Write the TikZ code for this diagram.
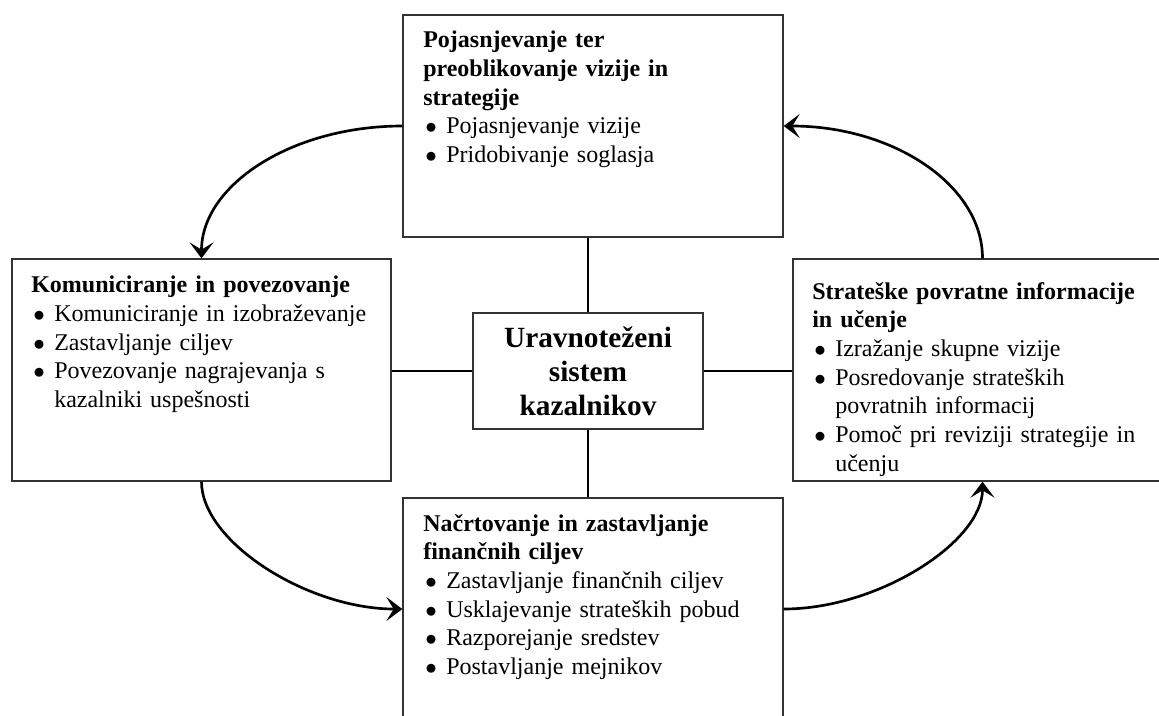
\documentclass[tikz,border=0pt]{standalone}
\usepackage{fontspec}
\setmainfont{Liberation Serif}
\usetikzlibrary{arrows.meta}
\newcommand{\alineja}{\par\hangindent=17.25pt\hangafter=1\noindent\makebox[17.25pt][l]{\hspace{1.5pt}$\bullet$}}
\newcommand{\vrsta}{\unskip\hfil\break}

\begin{document}
\begin{tikzpicture}[x=0.75pt,y=0.75pt,yscale=-1,xscale=1,
  okvir/.style={draw=black!80,line width=1pt,fill=white,inner sep=0pt},
  besedilo/.style={anchor=north west,inner sep=0pt,text width=265pt,align=left,font=\fontsize{18}{21.5}\selectfont},
  sredina/.style={align=center,font=\fontsize{22}{25.5}\selectfont\bfseries},
  povezava/.style={line width=2pt},
  puscica/.style={line width=2pt,-{Stealth[length=12pt,width=18pt,inset=5.5pt]}}]
%set diagram size 1159 x 715
\useasboundingbox (0,0) rectangle (1159,715);
\clip (0,0) rectangle (1159,715);

%Shape: Rectangle [top]
\node[okvir,minimum width=285pt,minimum height=166.5pt] (vizija) at (593,126) {};
%Shape: Rectangle [left]
\node[okvir,minimum width=284.25pt,minimum height=166.5pt] (komun) at (201.5,370) {};
%Shape: Rectangle [right]
\node[okvir,minimum width=284.25pt,minimum height=166.5pt] (ucenje) at (982.5,370) {};
%Shape: Rectangle [bottom]
\node[okvir,minimum width=285pt,minimum height=166.5pt] (nacrt) at (593,609) {};
%Shape: Rectangle [centre]
\node[okvir,sredina,minimum width=172.5pt,minimum height=87pt] (bsc) at (588,371) {Uravnoteženi\\sistem\\kazalnikov};

%Straight Lines
\draw[povezava] (bsc.north) -- (bsc.north |- vizija.south);
\draw[povezava] (bsc.south) -- (bsc.south |- nacrt.north);
\draw[povezava] (bsc.west) -- (bsc.west -| komun.east);
\draw[povezava] (bsc.east) -- (bsc.east -| ucenje.west);

%Curve Lines
\draw[puscica] (vizija.west) .. controls +(-111,0) and +(0,-73) .. (komun.north);
\draw[puscica] (komun.south) .. controls +(0,60) and +(-95,0) .. (nacrt.west);
\draw[puscica] (nacrt.east) .. controls +(95,0) and +(0,60) .. (ucenje.south);
\draw[puscica] (ucenje.north) .. controls +(0,-73) and +(110,0) .. (vizija.east);

% Text Node
\node[besedilo] (vizijatxt) at (423,31) {\noindent\textbf{Pojasnjevanje ter\vrsta preoblikovanje vizije in\vrsta strategije}
\alineja Pojasnjevanje vizije
\alineja Pridobivanje soglasja\par};
% Text Node
\node[besedilo] (komuntxt) at (31,276) {\noindent\textbf{Komuniciranje in povezovanje}
\alineja Komuniciranje in izobraževanje
\alineja Zastavljanje ciljev
\alineja Povezovanje nagrajevanja s\vrsta kazalniki uspešnosti\par};
% Text Node
\node[besedilo] (ucenjetxt) at (812,282) {\noindent\textbf{Strateške povratne informacije\vrsta in učenje}
\alineja Izražanje skupne vizije
\alineja Posredovanje strateških\vrsta povratnih informacij
\alineja Pomoč pri reviziji strategije in\vrsta učenju\par};
% Text Node
\node[besedilo] (nacrttxt) at (423,514) {\noindent\textbf{Načrtovanje in zastavljanje\vrsta finančnih ciljev}
\alineja Zastavljanje finančnih ciljev
\alineja Usklajevanje strateških pobud
\alineja Razporejanje sredstev
\alineja Postavljanje mejnikov\par};

\end{tikzpicture}
\end{document}
